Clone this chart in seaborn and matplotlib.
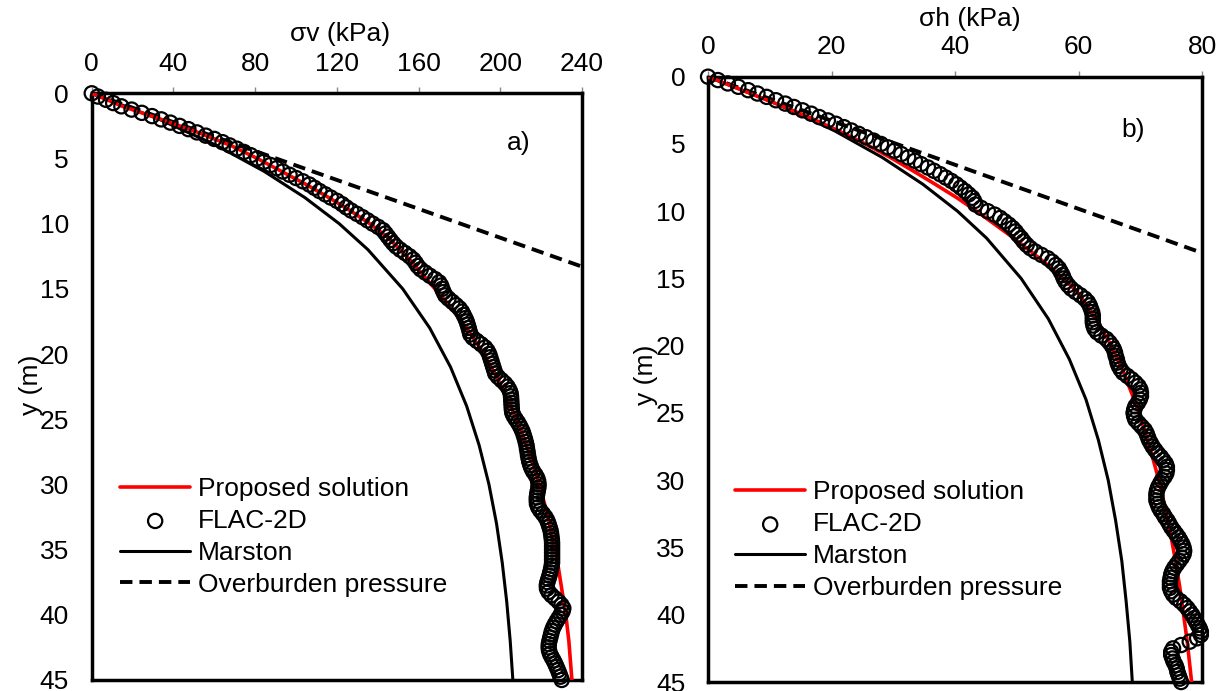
"""Vertical and horizontal stress profiles: proposed solution vs FLAC-2D, Marston and overburden."""

import matplotlib
matplotlib.use("Agg")
import matplotlib.pyplot as plt
import seaborn as sns

# ---- panel a) vertical stress (kPa) vs depth (m) ----
depth_curve_a = [0, 1, 2, 3, 4, 5, 6, 7, 8, 9, 10, 11, 12, 13, 14, 15, 16, 18, 20,
                 22, 24, 26, 28, 30, 32, 34, 36, 38, 40, 42, 45]
proposed_a = [0, 15, 34, 52, 68, 81, 93, 105, 116, 126.5, 136, 144.5, 151, 157, 162.5,
              168, 173.5, 183.5, 192, 199, 205, 210.5, 215, 219, 222.5, 225.5, 228,
              230, 232, 233.5, 235]

depth_marston_a = [0, 2, 4, 6, 8, 10, 12, 15, 18, 21, 24, 27, 30, 33, 36, 39, 42, 45]
marston_a = [0, 33.1, 61.1, 84.5, 104.3, 121.1, 135.2, 152.2, 165.4, 175.6, 183.5,
             189.6, 194.4, 198.1, 200.9, 203.1, 204.8, 206.1]

overburden_a_x = [0, 240]
overburden_a_y = [0, 13.3]

# FLAC-2D results, one value every 0.25 m of depth
depth_flac = [i * 0.25 for i in range(181)]
flac_a = [0, 3, 7, 10.5, 14.5, 19.5, 24.5, 29.5, 34, 38.5,
          43, 47.3, 51.5, 55.8, 60, 64, 67.5, 71, 74.5, 77.8,
          81, 84.3, 87.5, 90.5, 93.5, 96.8, 100, 103.3, 106.5, 109,
          111.5, 114.3, 117, 120, 122.5, 124.6, 127, 129.8, 132.5, 135,
          137.5, 140.2, 142.5, 143.8, 145, 146.2, 147.5, 149, 151, 153.3,
          155.5, 157.3, 158.5, 159.5, 161, 163.2, 165.5, 168, 170, 171,
          171.5, 172.2, 173, 174.6, 176.5, 178.3, 180, 181.2, 182, 182.8,
          183.5, 184, 184.5, 184.9, 185.3, 186.5, 188.5, 190.6, 192.5, 193.7,
          194.5, 195, 195.5, 196, 196.5, 197, 197.5, 198.8, 200.5, 202.2,
          203.5, 204.4, 205, 205.2, 205.3, 205.4, 205.5, 205.6, 205.8, 206.5,
          207.5, 208.6, 209.5, 210.3, 211, 211.5, 212, 212.4, 212.8, 213,
          213.3, 213.5, 213.8, 214.1, 214.6, 215.2, 216, 217.1, 218, 218.5,
          218.7, 218.6, 218.3, 218, 217.8, 217.8, 217.9, 218.5, 219.5, 220.8,
          222, 222.9, 223.5, 224, 224.5, 224.8, 225, 225.2, 225.3, 225.3,
          225.3, 225.3, 225.3, 225.3, 225.3, 225.1, 224.8, 224.4, 224, 223.5,
          223, 222.7, 222.8, 223.6, 225, 226.8, 228.5, 229.9, 230.8, 230.4,
          229.5, 228.5, 227.5, 226.6, 225.8, 225.2, 224.8, 224.4, 224, 223.7,
          223.6, 223.8, 224.3, 225.1, 226, 226.8, 227.5, 228.2, 228.8, 229.4,
          230]

# ---- panel b) horizontal stress (kPa) vs depth (m) ----
depth_curve_b = [0, 1, 2, 3, 4, 5, 6, 7, 8, 9, 10, 11, 12, 13, 14, 15, 16, 18, 20,
                 22, 24, 26, 28, 30, 32, 34, 36, 38, 40, 42, 45]
proposed_b = [0, 5.5, 11, 16.3, 21, 25.5, 29.5, 33.2, 36.8, 40.3, 43.5, 46.5, 49.5,
              52.3, 55, 57.5, 59.8, 62.8, 65.3, 67.3, 69, 70.5, 71.8, 73, 74, 74.9,
              75.7, 76.4, 77, 77.6, 78.3]

depth_marston_b = [0, 2, 4, 6, 8, 10, 12, 15, 18, 21, 24, 27, 30, 33, 36, 39, 42, 45]
marston_b = [0, 11.0, 20.4, 28.2, 34.8, 40.4, 45.1, 50.7, 55.1, 58.5, 61.2,
             63.2, 64.8, 66.0, 67.0, 67.7, 68.3, 68.7]

overburden_b_x = [0, 80]
overburden_b_y = [0, 13.1]

flac_b = [0, 1.6, 3.2, 4.9, 6.5, 8, 9.5, 11, 12.5, 13.9,
          15.3, 16.7, 18, 19.4, 20.7, 22, 23.2, 24.4, 25.6, 26.8,
          28, 29.1, 30.2, 31.3, 32.4, 33.5, 34.5, 35.6, 36.6, 37.6,
          38.5, 39.4, 40.2, 40.9, 41.6, 42.2, 42.8, 43.1, 43.3, 44.2,
          45.3, 46.4, 47.3, 48, 48.7, 49.3, 49.8, 50.2, 50.7, 51.1,
          51.6, 52.2, 53, 54, 55, 55.7, 56.3, 56.8, 57.1, 57.4,
          57.6, 57.9, 58.3, 58.8, 59.5, 60.3, 61, 61.5, 61.8, 62,
          62.2, 62.3, 62.3, 62.3, 62.4, 62.6, 63, 63.7, 64.5, 65,
          65.4, 65.7, 65.9, 66, 66.2, 66.3, 66.5, 66.8, 67.2, 67.9,
          68.6, 69.2, 69.7, 70, 70.1, 70.1, 69.9, 69.6, 69.2, 69,
          68.9, 69, 69.2, 69.7, 70.2, 70.7, 71, 71.2, 71.4, 71.7,
          72, 72.4, 72.8, 73.3, 73.7, 74.1, 74.3, 74.3, 74.2, 73.9,
          73.5, 73.2, 72.9, 72.7, 72.6, 72.6, 72.6, 72.8, 73, 73.3,
          73.7, 74, 74.4, 74.7, 75, 75.4, 75.8, 76.2, 76.5, 76.8,
          77, 77.1, 77, 76.7, 76.3, 75.9, 75.5, 75.2, 75, 74.9,
          74.8, 74.8, 74.8, 75, 75.3, 75.8, 76.5, 77.1, 77.6, 78,
          78.4, 78.7, 79, 79.3, 79.6, 79.8, 79.8, 79.2, 78, 76.6,
          75.3, 75, 75, 75.2, 75.4, 75.7, 75.9, 76, 76.2, 76.4,
          76.6]

LABELS = ["Proposed solution", "FLAC-2D", "Marston", "Overburden pressure"]

sns.set_style("white")
plt.rcParams["font.family"] = ["Liberation Sans", "DejaVu Sans"]
plt.rcParams["font.size"] = 19
plt.rcParams["text.color"] = "black"
plt.rcParams["axes.labelcolor"] = "black"


def draw_panel(ax, depth_curve, proposed, depth_marston, marston, ob_x, ob_y, flac, xmax, xstep):
    sns.lineplot(x=marston, y=depth_marston, sort=False, estimator=None, color="black", lw=2.2,
                 label=LABELS[2], ax=ax, zorder=3)
    sns.lineplot(x=ob_x, y=ob_y, sort=False, estimator=None, color="black", lw=2.8,
                 ls=(0, (3.2, 1.8)), label=LABELS[3], ax=ax, zorder=3)
    sns.lineplot(x=proposed, y=depth_curve, sort=False, estimator=None, color="red", lw=2.6,
                 label=LABELS[0], ax=ax, zorder=4)
    sns.scatterplot(x=flac, y=depth_flac, marker="o", s=105, facecolors="none", edgecolor="black",
                    linewidth=1.6, label=LABELS[1], ax=ax, zorder=5, clip_on=False)
    ax.set_xlim(0, xmax)
    ax.set_ylim(45, 0)
    ax.set_xticks(range(0, xmax + 1, xstep))
    ax.set_yticks(range(0, 46, 5))
    ax.xaxis.tick_top()
    ax.xaxis.set_label_position("top")
    ax.tick_params(axis="x", which="both", direction="out", length=4.5, width=1, color="#888888",
                   labelcolor="black", pad=8, labelsize=19)
    ax.tick_params(axis="y", direction="out", length=4.5, width=1, color="#888888",
                   labelcolor="black", pad=12, labelsize=19)
    for side in ["left", "right", "top", "bottom"]:
        ax.spines[side].set_visible(True)
        ax.spines[side].set_color("black")
        ax.spines[side].set_linewidth(2.5)
    ax.set_ylabel("y (m)", fontsize=19)
    handles, labels = ax.get_legend_handles_labels()
    lookup = dict(zip(labels, handles))
    return [lookup[l] for l in LABELS]


fig = plt.figure(figsize=(12.25, 6.91), dpi=100)
ax_a = fig.add_axes([0.0749, 0.016, 0.4003, 0.849])
ax_b = fig.add_axes([0.578, 0.013, 0.4033, 0.876])

handles_a = draw_panel(ax_a, depth_curve_a, proposed_a, depth_marston_a, marston_a,
                       overburden_a_x, overburden_a_y, flac_a, 240, 40)
handles_b = draw_panel(ax_b, depth_curve_b, proposed_b, depth_marston_b, marston_b,
                       overburden_b_x, overburden_b_y, flac_b, 80, 20)

ax_a.set_xlabel("σv (kPa)", fontsize=19)
ax_b.set_xlabel("σh (kPa)", fontsize=19)
ax_a.xaxis.set_label_coords(0.507, 1.089)
ax_b.xaxis.set_label_coords(0.53, 1.083)
ax_a.yaxis.set_label_coords(-0.099, 0.503)
ax_b.yaxis.set_label_coords(-0.101, 0.507)

for ax, handles, anchor in [(ax_a, handles_a, (0.058, 0.346)), (ax_b, handles_b, (0.055, 0.333))]:
    ax.legend(handles, LABELS, loc="upper left", bbox_to_anchor=anchor, frameon=False,
              borderpad=0, borderaxespad=0, handlelength=2.65, handletextpad=0.3,
              labelspacing=0.3, fontsize=19, scatterpoints=1)

ax_a.text(0.871, 0.915, "a)", transform=ax_a.transAxes, ha="center", va="center", fontsize=19)
ax_b.text(0.86, 0.912, "b)", transform=ax_b.transAxes, ha="center", va="center", fontsize=19)

fig.savefig("out.png", dpi=100)
